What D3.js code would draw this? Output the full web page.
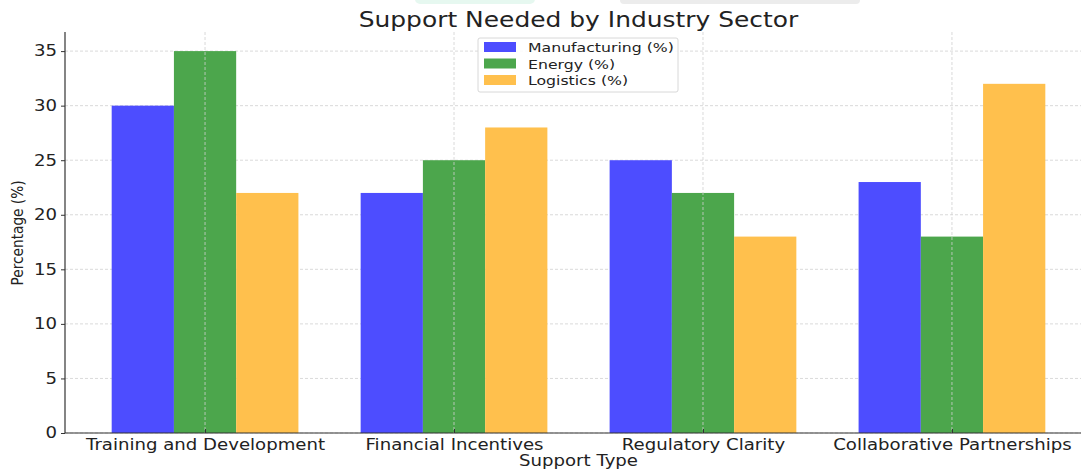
<!DOCTYPE html>
<html>
<head>
<meta charset="utf-8">
<script src="https://cdn.jsdelivr.net/npm/d3@7"></script>
<style>
  html, body { margin: 0; padding: 0; background: #fff; }
  svg { display: block; font-family: "DejaVu Sans", sans-serif; }
</style>
</head>
<body>
<svg id="svg" width="1081" height="470"></svg>
<script>
// chart data
var categories = ["Training and Development", "Financial Incentives", "Regulatory Clarity", "Collaborative Partnerships"];
var seriesNames = ["Manufacturing (%)", "Energy (%)", "Logistics (%)"];
var manufacturing = [30, 22, 25, 23];
var energy = [35, 25, 22, 18];
var logistics = [22, 28, 18, 32];
var yTicks = [0, 5, 10, 15, 20, 25, 30, 35];
var colors = ["#4d4dff", "#4ca64c", "#ffc04d"];

var series = [manufacturing, energy, logistics];

var svg = d3.select("#svg");
var plotL = 65, plotR = 1092, plotT = 32, plotB = 433;
var sx = 1.21; // the source image is stretched sideways, text too

// x is a linear scale over category index, like matplotlib's bar positions
var barW = 0.25;
var x = d3.scaleLinear().domain([-0.5625, 3.5625]).range([plotL, plotR]);
var y = d3.scaleLinear().domain([0, 36.75]).range([plotB, plotT]);

// faint watermark strip at the very top
svg.append("rect").attr("x", 415).attr("y", -6).attr("width", 120).attr("height", 10)
  .attr("rx", 5).attr("fill", "#e6f8f0");
svg.append("rect").attr("x", 620).attr("y", -6).attr("width", 240).attr("height", 10)
  .attr("rx", 4).attr("fill", "#ececec");

// horizontal grid
svg.append("g").selectAll("line").data(yTicks).enter().append("line")
  .attr("x1", plotL).attr("x2", plotR)
  .attr("y1", function(d) { return y(d); }).attr("y2", function(d) { return y(d); })
  .attr("stroke", "#d0d0d0").attr("stroke-width", 0.8).attr("stroke-dasharray", "3,2");

// bars
series.forEach(function(vals, s) {
  svg.append("g").selectAll("rect").data(vals).enter().append("rect")
    .attr("x", function(d, i) { return x(i + (s - 1) * barW - barW / 2); })
    .attr("width", x(barW) - x(0))
    .attr("y", function(d) { return y(d); })
    .attr("height", function(d) { return y(0) - y(d); })
    .attr("fill", colors[s]);
});

// vertical grid, drawn over the bars
svg.append("g").selectAll("line").data(categories).enter().append("line")
  .attr("x1", function(d, i) { return x(i); }).attr("x2", function(d, i) { return x(i); })
  .attr("y1", plotT).attr("y2", plotB)
  .attr("stroke", "#d0d0d0").attr("stroke-width", 0.8).attr("stroke-dasharray", "3,2");

// axes
var yAxis = d3.axisLeft(y).tickValues(yTicks).tickSize(4).tickFormat(d3.format("d"));
var gy = svg.append("g").attr("transform", "translate(" + plotL + ",0)").call(yAxis);
gy.select(".domain").attr("stroke", "#333").attr("stroke-width", 1.2).attr("d", "M0," + plotT + "V" + plotB);
gy.selectAll(".tick line").attr("stroke", "#333");
gy.selectAll(".tick text").attr("font-size", 15).attr("fill", "#222").attr("font-family", "DejaVu Sans")
  .attr("x", -6.5).attr("transform", "scale(" + sx + ",1)");

var xAxis = d3.axisBottom(x).tickValues(d3.range(categories.length))
  .tickFormat(function(i) { return categories[i]; }).tickSize(4).tickPadding(2);
var gx = svg.append("g").attr("transform", "translate(0," + plotB + ")").call(xAxis);
gx.select(".domain").attr("stroke", "#333").attr("stroke-width", 1.2).attr("d", "M" + plotL + ",0H" + plotR);
gx.selectAll(".tick line").attr("stroke", "#333").attr("y2", -4);
gx.selectAll(".tick text").attr("font-size", 15).attr("fill", "#222").attr("font-family", "DejaVu Sans")
  .attr("transform", "scale(" + sx + ",1)");

// labels
svg.append("text").attr("transform", "translate(" + (plotL + plotR) / 2 + ",27) scale(" + sx + ",1)")
  .attr("text-anchor", "middle").attr("font-size", 20.6).attr("fill", "#222")
  .text("Support Needed by Industry Sector");
svg.append("text").attr("transform", "translate(" + (plotL + plotR) / 2 + ",466) scale(" + sx + ",1)")
  .attr("text-anchor", "middle").attr("font-size", 15).attr("fill", "#222")
  .text("Support Type");
svg.append("text").attr("transform", "translate(23,233) rotate(-90) scale(1," + sx + ")")
  .attr("text-anchor", "middle").attr("font-size", 13.7).attr("fill", "#222")
  .text("Percentage (%)");

// legend
var lg = svg.append("g").attr("transform", "translate(478,38)");
lg.append("rect").attr("width", 200).attr("height", 54).attr("rx", 2)
  .attr("fill", "#fff").attr("fill-opacity", 0.85).attr("stroke", "#d8d8d8");
seriesNames.forEach(function(name, i) {
  lg.append("rect").attr("x", 6).attr("y", 4 + i * 16.5).attr("width", 32).attr("height", 10)
    .attr("fill", colors[i]);
  lg.append("text").attr("transform", "translate(50," + (14 + i * 16.5) + ") scale(" + sx + ",1)")
    .attr("font-size", 13).attr("fill", "#222").text(name);
});
</script>
</body>
</html>
